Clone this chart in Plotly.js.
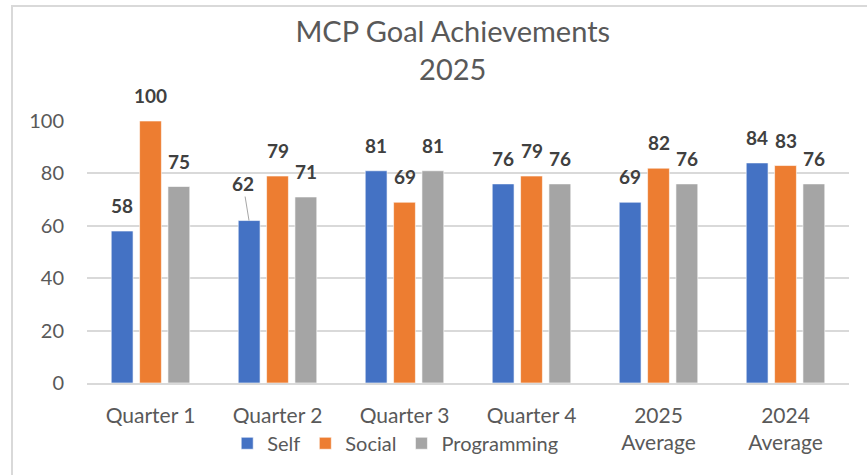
<!DOCTYPE html>
<html>
<head>
<meta charset="utf-8">
<script src="https://cdn.plot.ly/plotly-3.0.1.min.js"></script>
<style>
  html, body { margin: 0; padding: 0; background: #ffffff; }
  #wrap { position: relative; width: 867px; height: 475px; overflow: hidden; }
  #chart { width: 867px; height: 475px; }
  #frame {
    position: absolute; left: 11px; top: 5px; width: 900px; height: 500px;
    border-left: 2px solid #d9d9d9; border-top: 2px solid #d9d9d9;
    pointer-events: none;
  }
</style>
</head>
<body>
<div id="wrap">
  <div id="chart"></div>
  <div id="frame"></div>
</div>
<script>
// MCP goal achievements 2025 - grouped bars

const categories = ['Quarter 1', 'Quarter 2', 'Quarter 3', 'Quarter 4', '2025<br>Average', '2024<br>Average'];
const seriesNames = ['Self', 'Social', 'Programming'];
const selfValues = [58, 62, 81, 76, 69, 84];
const socialValues = [100, 79, 69, 79, 82, 83];
const programmingValues = [75, 71, 81, 76, 76, 76];

const COLORS = ['#4472C4', '#ED7D31', '#A5A5A5'];
const FONT = 'Lato, "Open Sans", sans-serif';
const TEXT_GREY = '#595959';

const allValues = [selfValues, socialValues, programmingValues];

const traces = allValues.map((vals, i) => ({
  x: categories,
  y: vals,
  type: 'bar',
  name: seriesNames[i],
  marker: { color: COLORS[i], line: { color: '#ffffff', width: 0.6 } },
  hoverinfo: 'x+y+name'
}));

// bar offset within a group, in px (slot width ~28.5)
const SLOT = 28.5;

const annotations = [];
allValues.forEach((vals, i) => {
  vals.forEach((v, j) => {
    const a = {
      x: categories[j],
      y: v,
      xref: 'x',
      yref: 'y',
      text: '<b>' + v + '</b>',
      showarrow: false,
      xshift: (i - 1) * SLOT,
      yshift: 12,
      yanchor: 'bottom',
      font: { family: FONT, size: 19, color: '#404040' }
    };
    // Q2 "Self" label sits off the bar with a leader line
    if (i === 0 && j === 1) {
      a.showarrow = true;
      a.arrowhead = 0;
      a.arrowwidth = 1;
      a.arrowcolor = '#a6a6a6';
      a.ax = -6;
      a.ay = -37;
      a.yshift = 0;
      a.yanchor = 'auto';
    }
    annotations.push(a);
  });
});

const layout = {
  width: 867,
  height: 475,
  margin: { t: 121, b: 90, l: 87, r: 18 },
  paper_bgcolor: '#ffffff',
  plot_bgcolor: '#ffffff',
  font: { family: FONT, color: TEXT_GREY },
  title: {
    text: 'MCP Goal Achievements<br>2025',
    font: { family: FONT, size: 29, color: TEXT_GREY },
    x: 0.48,
    xref: 'paper',
    xanchor: 'center',
    yref: 'container',
    y: 0.912,
    yanchor: 'middle'
  },
  barmode: 'group',
  bargap: 0.33,
  bargroupgap: 0.23,
  showlegend: true,
  legend: {
    orientation: 'h',
    x: 0.184,
    xanchor: 'left',
    y: -0.23,
    yanchor: 'middle',
    itemwidth: 30,
    font: { family: FONT, size: 20, color: TEXT_GREY },
    traceorder: 'normal'
  },
  xaxis: {
    type: 'category',
    showgrid: false,
    showline: true,
    linecolor: '#d9d9d9',
    linewidth: 1.5,
    ticks: '',
    ticklabelstandoff: 13,
    tickfont: { family: FONT, size: 21, color: TEXT_GREY },
    fixedrange: true
  },
  yaxis: {
    range: [0, 100],
    dtick: 20,
    showgrid: true,
    gridcolor: '#d9d9d9',
    gridwidth: 1.5,
    zeroline: false,
    ticks: '',
    ticklabelstandoff: 22,
    tickfont: { family: FONT, size: 20, color: TEXT_GREY },
    fixedrange: true
  },
  annotations: annotations
};

Plotly.newPlot('chart', traces, layout, { displayModeBar: false, responsive: false });
</script>
</body>
</html>
